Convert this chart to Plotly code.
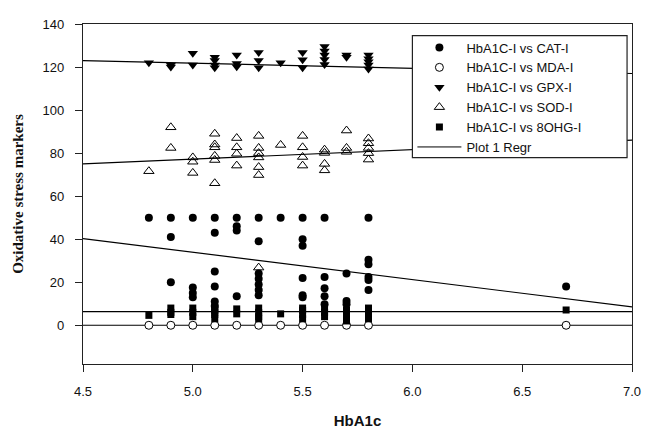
import plotly.graph_objects as go

# ---- data ----
cat_x = [4.8, 4.9, 4.9, 4.9, 5.0, 5.0, 5.0, 5.0, 5.1, 5.1, 5.1, 5.1, 5.1, 5.1,
         5.2, 5.2, 5.2, 5.2, 5.3, 5.3, 5.3, 5.3, 5.3, 5.3, 5.3, 5.4,
         5.5, 5.5, 5.5, 5.5, 5.5, 5.5, 5.6, 5.6, 5.6, 5.6, 5.6,
         5.7, 5.7, 5.7, 5.8, 5.8, 5.8, 5.8, 5.8, 5.8, 6.7]
cat_y = [50, 50, 41, 20, 50, 17.5, 15, 13, 50, 43, 25, 18, 11, 9,
         50, 46, 44, 13.5, 50, 39, 24, 21.6, 19, 16.4, 14, 50,
         50, 40, 37, 22, 14, 13, 50, 22.4, 17.2, 13.5, 9.8,
         24, 11.3, 9.8, 50, 30.5, 28.3, 22.4, 21, 16.4, 18]

mda_x = [4.8, 4.9, 5.0, 5.1, 5.2, 5.3, 5.4, 5.5, 5.6, 5.7, 5.8, 6.7]
mda_y = [0, 0, 0, 0, 0, 0, 0, 0, 0, 0, 0, 0]

gpx_x = [4.8, 4.9, 4.9, 5.0, 5.0, 5.1, 5.1, 5.1, 5.1, 5.2, 5.2, 5.2,
         5.3, 5.3, 5.3, 5.4, 5.5, 5.5, 5.5, 5.6, 5.6, 5.6, 5.6, 5.6,
         5.7, 5.7, 5.8, 5.8, 5.8, 5.8, 5.8]
gpx_y = [122, 121, 120, 126.4, 121, 124.6, 123, 121, 119.7, 125.6, 121.6, 120.1,
         126.8, 123, 119.7, 122, 126.8, 123.4, 119.7, 129.5, 127.5, 125.6, 123.5, 121.2,
         125.6, 124.6, 125.6, 123.9, 122.4, 121, 119.1]

sod_x = [4.8, 4.9, 4.9, 5.0, 5.0, 5.0, 5.1, 5.1, 5.1, 5.1, 5.1, 5.1,
         5.2, 5.2, 5.2, 5.2, 5.3, 5.3, 5.3, 5.3, 5.3, 5.3, 5.3, 5.4,
         5.5, 5.5, 5.5, 5.5, 5.6, 5.6, 5.6, 5.6, 5.7, 5.7, 5.7,
         5.8, 5.8, 5.8, 5.8, 5.8]
sod_y = [71.6, 92, 82.4, 78, 76, 70.8, 89, 84, 82.7, 78.7, 76.8, 66,
         87, 82.7, 79.7, 74.2, 88, 82.4, 80, 78, 73.5, 69.8, 26.8, 83.8,
         88, 82.7, 78.2, 74.2, 81.6, 80.1, 75, 72, 90.5, 82.4, 80.6,
         86.8, 84.6, 82.4, 80, 77]

ohg_x = [4.8, 4.9, 4.9, 4.9, 5.0, 5.0, 5.0, 5.1, 5.1, 5.1, 5.1, 5.1,
         5.2, 5.2, 5.3, 5.3, 5.3, 5.3, 5.4, 5.5, 5.5, 5.5, 5.5,
         5.6, 5.6, 5.6, 5.7, 5.7, 5.7, 5.7, 5.8, 5.8, 5.8, 5.8, 6.7]
ohg_y = [4.6, 8, 6, 5, 8, 6, 4, 8, 7, 6, 5, 3,
         7.6, 5.3, 8, 6, 4, 3, 5.3, 8, 7, 5, 3,
         8, 6, 4, 7, 5, 3, 2, 8, 6, 5, 3, 7.1]

# regression line end points (x from 4.5 to 7.0)
reg_x = [4.5, 7.0]
reg_cat = [40.3, 8.5]
reg_mda = [0, 0]
reg_gpx = [123.0, 117.0]
reg_sod = [75.0, 86.0]
reg_ohg = [6.3, 6.3]

x_ticks = [4.5, 5.0, 5.5, 6.0, 6.5, 7.0]
x_tick_labels = ["4.5", "5.0", "5.5", "6.0", "6.5", "7.0"]
y_ticks = [0, 20, 40, 60, 80, 100, 120, 140]

fig = go.Figure()

# regression lines
for ry in [reg_cat, reg_mda, reg_gpx, reg_sod, reg_ohg]:
    fig.add_trace(go.Scatter(x=reg_x, y=ry, mode="lines",
                             line=dict(color="black", width=1.2),
                             name="Plot 1 Regr", legendgroup="reg",
                             showlegend=False, legendrank=10, hoverinfo="skip"))

fig.add_trace(go.Scatter(x=cat_x, y=cat_y, mode="markers", name="HbA1C-I vs CAT-I",
                         marker=dict(symbol="circle", size=8, color="black"), legendrank=1))
fig.add_trace(go.Scatter(x=mda_x, y=mda_y, mode="markers", name="HbA1C-I vs MDA-I",
                         marker=dict(symbol="circle", size=8, color="white",
                                     line=dict(color="black", width=1)), legendrank=2))
fig.add_trace(go.Scatter(x=gpx_x, y=gpx_y, mode="markers", name="HbA1C-I vs GPX-I",
                         marker=dict(symbol="triangle-down", size=9, color="black"), legendrank=3))
fig.add_trace(go.Scatter(x=sod_x, y=sod_y, mode="markers", name="HbA1C-I vs SOD-I",
                         marker=dict(symbol="triangle-up-open", size=9, color="black",
                                     line=dict(width=1)), legendrank=4))
fig.add_trace(go.Scatter(x=ohg_x, y=ohg_y, mode="markers", name="HbA1C-I vs 8OHG-I",
                         marker=dict(symbol="square", size=7, color="black"), legendrank=5))
# legend entry for regression
fig.add_trace(go.Scatter(x=[None], y=[None], mode="lines", name="Plot 1 Regr",
                         line=dict(color="black", width=1), legendrank=6))

axis_common = dict(showgrid=False, zeroline=False, showline=True, linecolor="#222",
                   linewidth=1.2, mirror=True, ticks="outside", ticklen=7,
                   tickcolor="#222", tickwidth=1,
                   tickfont=dict(family="Liberation Sans, Arial", size=13, color="#111"))

# the page body adds an 8px margin, so the figure is sized 8px smaller
fig.update_layout(
    width=642, height=427,
    margin=dict(l=70, r=13, t=9, b=62),
    paper_bgcolor="white", plot_bgcolor="white",
    showlegend=True,
    legend=dict(x=0.6, y=0.975, xanchor="left", yanchor="top",
                bgcolor="rgba(0,0,0,0)", borderwidth=0,
                font=dict(family="Liberation Sans, Arial", size=13, color="#111"),
                itemwidth=44, tracegroupgap=0),
    xaxis=dict(range=[4.5, 7.0], tickvals=x_ticks, ticktext=x_tick_labels,
               ticklabelstandoff=8,
               title=dict(text="<b>HbA1c</b>", standoff=17,
                          font=dict(family="Liberation Sans, Arial", size=15, color="#111")),
               **axis_common),
    yaxis=dict(range=[-18, 140], tickvals=y_ticks, ticklabelstandoff=8,
               title=dict(text="<b>Oxidative stress markers</b>", standoff=15,
                          font=dict(family="Liberation Serif, Times New Roman", size=15, color="#111")),
               **axis_common),
    shapes=[dict(type="rect", xref="paper", yref="paper", x0=0.6, x1=0.991,
                 y0=0.607, y1=0.966, fillcolor="white",
                 line=dict(color="#222", width=1.2), layer="above")],
)

fig.write_html("out.html")
